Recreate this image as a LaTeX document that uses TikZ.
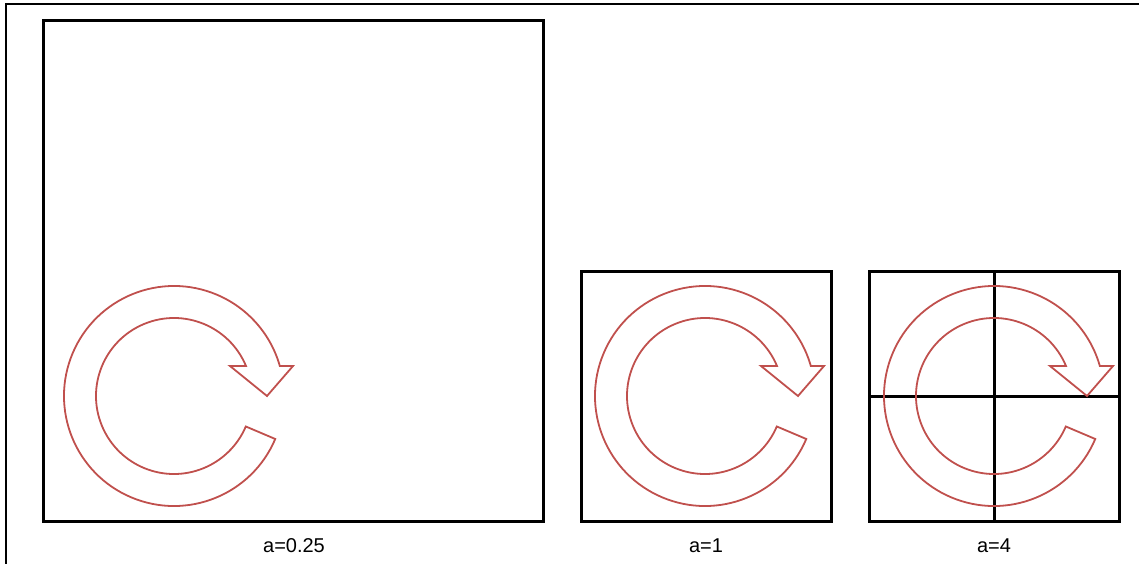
\documentclass[tikz,border=0pt]{standalone}
\usepackage{fontspec}
\setmainfont{Liberation Sans}
\definecolor{arrowred}{HTML}{C0504D}
\tikzset{
  frameline/.style={line width=2.2pt, black},
  box/.style={line width=3pt, black},
  arrowline/.style={line width=1.8pt, arrowred, line join=miter},
  lbl/.style={font=\fontsize{20}{23}\selectfont, inner sep=0pt, anchor=center},
  rotarrow/.pic={
    \draw[arrowline] (-23:78) -- (-23:110)
      arc[start angle=-23, end angle=-344.2, radius=110pt]
      -- (119,30) -- (93,0) -- (56,30) -- (22.6:78)
      arc[start angle=22.6, end angle=337, radius=78pt] -- cycle;
  }
}
\begin{document}
\begin{tikzpicture}[x=1pt,y=1pt]
\useasboundingbox (0,0) rectangle (1139,-564);
% outer frame
\draw[frameline] (6,-564) -- (6,-4) -- (1139,-4);
% squares
\draw[box] (43,-21) rectangle (543,-521);
\draw[box] (581,-271) rectangle (831,-521);
\draw[box] (869,-271) rectangle (1119,-521);
\draw[box] (994,-271) -- (994,-521);
\draw[box] (869,-396) -- (1119,-396);
% arrows
\pic at (174,-396) {rotarrow};
\pic at (705,-396) {rotarrow};
\pic at (994,-396) {rotarrow};
% labels
\node[lbl] (l1) at (294,-546) {a=0.25};
\node[lbl] (l2) at (706,-546) {a=1};
\node[lbl] (l3) at (994,-546) {a=4};
\end{tikzpicture}
\end{document}
